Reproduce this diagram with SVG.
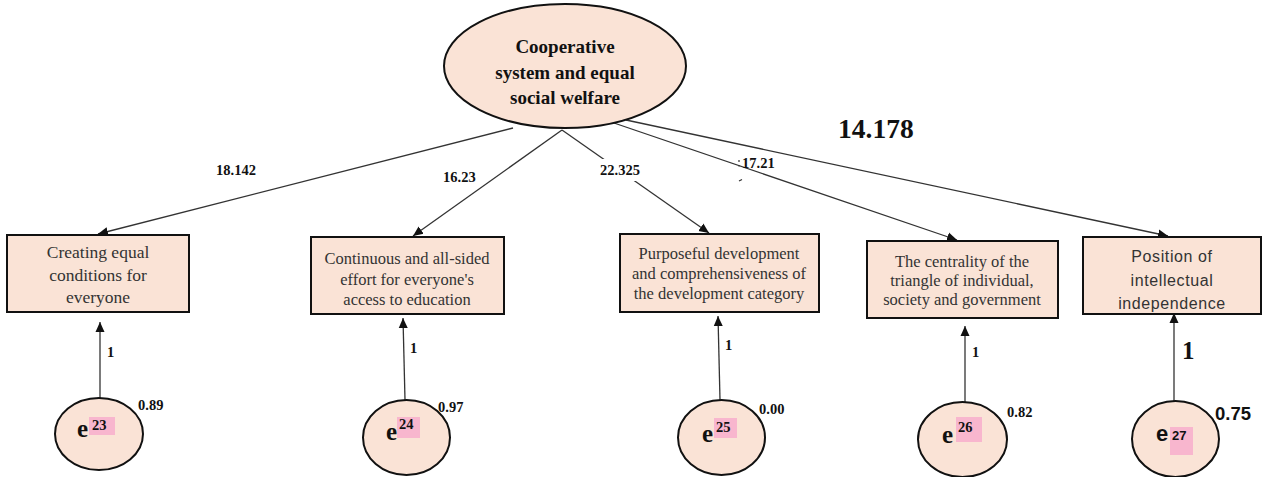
<svg xmlns="http://www.w3.org/2000/svg" width="1268" height="477" viewBox="0 0 1268 477">
<style>
.node{fill:#FAE3D6;stroke:#111;stroke-width:2}
.conn{stroke:#333;stroke-width:1.3;fill:none;marker-end:url(#ah)}
.bt{font-family:"Liberation Serif",serif;font-size:16.5px;fill:#333;text-anchor:middle}
.bt1{font-size:17.5px}
.st{font-family:"Liberation Sans",sans-serif;font-size:16px;fill:#333;text-anchor:middle;letter-spacing:0.6px}
.fb{font-family:"Liberation Serif",serif;font-weight:bold;fill:#111}
.ht{font-size:19px;text-anchor:middle}
.lab{font-size:14.5px}
.e{font-size:25px}
.sup{font-size:14.5px}
.hl{fill:#F8B6CE}
</style>
<defs>
<marker id="ah" markerWidth="10" markerHeight="10" refX="10" refY="5" orient="auto" markerUnits="userSpaceOnUse">
<path d="M0,0.5 L10,5 L0,9.5 Z" fill="#111"/>
</marker>
</defs>
<rect width="1268" height="477" fill="#fff"/>

<g id="connectors">
<line class="conn" x1="513" y1="128" x2="98" y2="234"/>
<line class="conn" x1="562" y1="130" x2="413" y2="236"/>
<line class="conn" x1="562" y1="130" x2="709" y2="233"/>
<line class="conn" x1="614" y1="123" x2="957" y2="240"/>
<line class="conn" x1="626" y1="120" x2="1168" y2="236"/>
<line class="conn" x1="100" y1="398" x2="100" y2="322"/>
<line class="conn" x1="405" y1="400" x2="403" y2="318"/>
<line class="conn" x1="720" y1="400" x2="718" y2="316"/>
<line class="conn" x1="965" y1="407" x2="965" y2="326"/>
<line class="conn" x1="1174" y1="402" x2="1174" y2="313"/>
<rect x="598" y="159" width="47" height="22" fill="#fff"/>
<text class="fb lab" x="216" y="175">18.142</text>
<text class="fb lab" x="443" y="182">16.23</text>
<text class="fb lab" x="600" y="175">22.325</text>
<text class="fb lab" x="742" y="168">17.21</text>
<path d="M739,160 v2 M739,165 v1.5 M739,181 l3,-1.5" stroke="#333" stroke-width="1.2"/>
<text class="fb" x="838" y="138" font-size="27.5">14.178</text>
<text class="fb lab" x="107" y="357">1</text>
<text class="fb lab" x="410" y="353">1</text>
<text class="fb lab" x="725" y="350">1</text>
<text class="fb lab" x="972" y="357">1</text>
<text class="fb" x="1182" y="359" font-size="25">1</text>
<text class="fb lab" x="138" y="410">0.89</text>
<text class="fb lab" x="438" y="412">0.97</text>
<text class="fb lab" x="759" y="414">0.00</text>
<text class="fb lab" x="1007" y="417">0.82</text>
<text x="1215" y="420" font-family="Liberation Sans,sans-serif" font-size="18.5" font-weight="bold" fill="#111">0.75</text>
</g>

<g id="latent">
<ellipse class="node" cx="565" cy="66" rx="121" ry="62"/>
<text class="fb ht" x="565" y="53">Cooperative</text>
<text class="fb ht" x="565" y="79">system and equal</text>
<text class="fb ht" x="565" y="104">social welfare</text>
</g>

<g id="box1">
<rect class="node" x="7" y="235" width="182" height="77"/>
<text class="bt bt1" x="98" y="258">Creating equal</text>
<text class="bt bt1" x="98" y="281">conditions for</text>
<text class="bt bt1" x="98" y="303">everyone</text>
</g>
<g id="box2">
<rect class="node" x="311" y="237" width="193" height="77"/>
<text class="bt" x="407" y="264">Continuous and all-sided</text>
<text class="bt" x="407" y="285">effort for everyone's</text>
<text class="bt" x="407" y="305">access to education</text>
</g>
<g id="box3">
<rect class="node" x="620" y="234" width="199" height="78"/>
<text class="bt" x="719" y="259">Purposeful development</text>
<text class="bt" x="719" y="279">and comprehensiveness of</text>
<text class="bt" x="719" y="299">the development category</text>
</g>
<g id="box4">
<rect class="node" x="867" y="241" width="191" height="77"/>
<text class="bt" x="962" y="267">The centrality of the</text>
<text class="bt" x="962" y="286">triangle of individual,</text>
<text class="bt" x="962" y="305">society and government</text>
</g>
<g id="box5">
<rect class="node" x="1083" y="237" width="178" height="77"/>
<text class="st" x="1172" y="262">Position of</text>
<text class="st" x="1172" y="286">intellectual</text>
<text class="st" x="1172" y="309">independence</text>
</g>

<g id="e23">
<ellipse class="node" cx="99" cy="434" rx="44" ry="36"/>
<rect class="hl" x="89" y="417" width="26" height="18"/>
<text class="fb e" x="77" y="437">e</text>
<text class="fb sup" x="92" y="430">23</text>
</g>
<g id="e24">
<ellipse class="node" cx="406.5" cy="437.5" rx="43.5" ry="37.5"/>
<rect class="hl" x="397" y="417" width="23" height="21"/>
<text class="fb e" x="386" y="440">e</text>
<text class="fb sup" x="399" y="429">24</text>
</g>
<g id="e25">
<ellipse class="node" cx="721.5" cy="437.5" rx="43.5" ry="37.5"/>
<rect class="hl" x="714" y="418" width="23" height="20"/>
<text class="fb e" x="702" y="442">e</text>
<text class="fb sup" x="716" y="432">25</text>
</g>
<g id="e26">
<ellipse class="node" cx="962.5" cy="439.5" rx="44.5" ry="37.5"/>
<rect class="hl" x="956" y="417" width="26" height="25"/>
<text class="fb e" x="942" y="443">e</text>
<text class="fb sup" x="958" y="432">26</text>
</g>
<g id="e27">
<ellipse class="node" cx="1175.5" cy="439" rx="43.5" ry="38"/>
<rect class="hl" x="1170" y="427" width="23" height="28"/>
<text x="1156" y="441" font-family="Liberation Sans,sans-serif" font-size="22" font-weight="bold" fill="#111">e</text>
<text x="1172" y="440" font-family="Liberation Sans,sans-serif" font-size="13" font-weight="bold" fill="#111">27</text>
</g>
</svg>
